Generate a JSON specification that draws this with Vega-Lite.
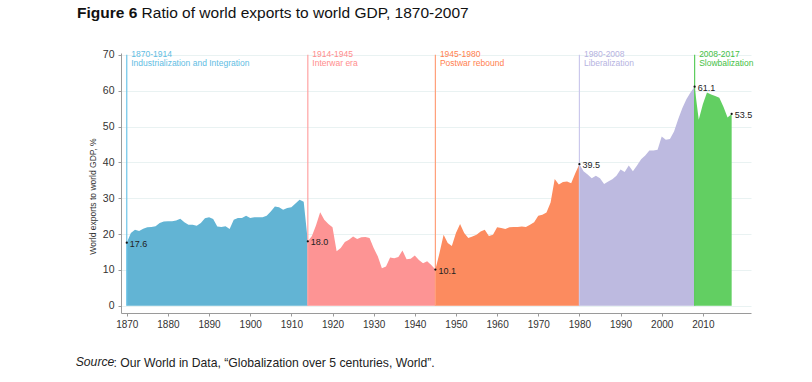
{
  "$schema": "https://vega.github.io/schema/vega-lite/v6.json",
  "width": 630,
  "height": 260,
  "autosize": {"type": "none"},
  "padding": {"left": 121, "top": 53, "right": 61, "bottom": 69},
  "background": "white",
  "config": {
    "font": "Liberation Sans",
    "view": {"stroke": null},
    "axisX": {
      "format": "d",
      "grid": false,
      "labelFontSize": 10,
      "labelColor": "#333333",
      "labelPadding": 3,
      "domainColor": "#9a9a9a",
      "tickColor": "#9a9a9a",
      "tickSize": 3,
      "titleFontSize": 12.2,
      "titleFontWeight": "normal",
      "titleColor": "#222222",
      "titleAnchor": "start",
      "titleAlign": "left",
      "titleBaseline": "alphabetic",
      "titleX": -45.3,
      "titleY": 53
    },
    "axisY": {
      "labelOverlap": false,
      "grid": true,
      "gridColor": "#e9f2f2",
      "gridWidth": 1,
      "labelFontSize": 10.5,
      "labelColor": "#333333",
      "labelPadding": 4,
      "domainColor": "#9a9a9a",
      "tickColor": "#9a9a9a",
      "tickSize": 3,
      "titleFontSize": 8.5,
      "titleFontWeight": "normal",
      "titleColor": "#333333",
      "titleAngle": -90,
      "titleAlign": "center",
      "titleBaseline": "middle",
      "titleX": -29,
      "titleY": 143
    }
  },
  "title": {
    "text": "Figure 6",
    "subtitle": "\u200b\u00a0\u00a0\u00a0\u00a0\u00a0\u00a0\u00a0\u00a0\u00a0\u00a0\u00a0\u00a0\u00a0\u00a0\u00a0Ratio of world exports to world GDP, 1870-2007",
    "anchor": "start",
    "frame": "group",
    "dx": -44,
    "offset": 28,
    "fontSize": 15.5,
    "fontWeight": "bold",
    "color": "#111111",
    "subtitleFontSize": 15.5,
    "subtitleFontWeight": "normal",
    "subtitleColor": "#111111",
    "subtitleFont": "Liberation Sans",
    "subtitlePadding": -15.5
  },
  "datasets": {
    "series": [
      {"era": "1870-1914", "year": 1870, "value": 17.6},
      {"era": "1870-1914", "year": 1871, "value": 20.3},
      {"era": "1870-1914", "year": 1872, "value": 21.2},
      {"era": "1870-1914", "year": 1873, "value": 20.9},
      {"era": "1870-1914", "year": 1874, "value": 21.5},
      {"era": "1870-1914", "year": 1875, "value": 21.9},
      {"era": "1870-1914", "year": 1876, "value": 22.0},
      {"era": "1870-1914", "year": 1877, "value": 22.2},
      {"era": "1870-1914", "year": 1878, "value": 23.1},
      {"era": "1870-1914", "year": 1879, "value": 23.5},
      {"era": "1870-1914", "year": 1880, "value": 23.6},
      {"era": "1870-1914", "year": 1881, "value": 23.6},
      {"era": "1870-1914", "year": 1882, "value": 23.8},
      {"era": "1870-1914", "year": 1883, "value": 24.3},
      {"era": "1870-1914", "year": 1884, "value": 23.3},
      {"era": "1870-1914", "year": 1885, "value": 22.6},
      {"era": "1870-1914", "year": 1886, "value": 22.6},
      {"era": "1870-1914", "year": 1887, "value": 22.3},
      {"era": "1870-1914", "year": 1888, "value": 23.1},
      {"era": "1870-1914", "year": 1889, "value": 24.4},
      {"era": "1870-1914", "year": 1890, "value": 24.7},
      {"era": "1870-1914", "year": 1891, "value": 24.2},
      {"era": "1870-1914", "year": 1892, "value": 22.1},
      {"era": "1870-1914", "year": 1893, "value": 22.0},
      {"era": "1870-1914", "year": 1894, "value": 22.2},
      {"era": "1870-1914", "year": 1895, "value": 21.4},
      {"era": "1870-1914", "year": 1896, "value": 24.0},
      {"era": "1870-1914", "year": 1897, "value": 24.5},
      {"era": "1870-1914", "year": 1898, "value": 24.5},
      {"era": "1870-1914", "year": 1899, "value": 25.1},
      {"era": "1870-1914", "year": 1900, "value": 24.5},
      {"era": "1870-1914", "year": 1901, "value": 24.7},
      {"era": "1870-1914", "year": 1902, "value": 24.7},
      {"era": "1870-1914", "year": 1903, "value": 24.7},
      {"era": "1870-1914", "year": 1904, "value": 25.1},
      {"era": "1870-1914", "year": 1905, "value": 26.3},
      {"era": "1870-1914", "year": 1906, "value": 27.7},
      {"era": "1870-1914", "year": 1907, "value": 27.5},
      {"era": "1870-1914", "year": 1908, "value": 26.8},
      {"era": "1870-1914", "year": 1909, "value": 27.3},
      {"era": "1870-1914", "year": 1910, "value": 27.5},
      {"era": "1870-1914", "year": 1911, "value": 28.5},
      {"era": "1870-1914", "year": 1912, "value": 29.6},
      {"era": "1870-1914", "year": 1913, "value": 29.0},
      {"era": "1870-1914", "year": 1914, "value": 18.0},
      {"era": "1914-1945", "year": 1914, "value": 18.0},
      {"era": "1914-1945", "year": 1915, "value": 19.5},
      {"era": "1914-1945", "year": 1916, "value": 22.5},
      {"era": "1914-1945", "year": 1917, "value": 26.1},
      {"era": "1914-1945", "year": 1918, "value": 24.0},
      {"era": "1914-1945", "year": 1919, "value": 22.8},
      {"era": "1914-1945", "year": 1920, "value": 21.9},
      {"era": "1914-1945", "year": 1921, "value": 15.2},
      {"era": "1914-1945", "year": 1922, "value": 16.1},
      {"era": "1914-1945", "year": 1923, "value": 17.8},
      {"era": "1914-1945", "year": 1924, "value": 18.4},
      {"era": "1914-1945", "year": 1925, "value": 19.3},
      {"era": "1914-1945", "year": 1926, "value": 18.6},
      {"era": "1914-1945", "year": 1927, "value": 19.1},
      {"era": "1914-1945", "year": 1928, "value": 19.2},
      {"era": "1914-1945", "year": 1929, "value": 18.9},
      {"era": "1914-1945", "year": 1930, "value": 16.1},
      {"era": "1914-1945", "year": 1931, "value": 13.8},
      {"era": "1914-1945", "year": 1932, "value": 10.5},
      {"era": "1914-1945", "year": 1933, "value": 11.0},
      {"era": "1914-1945", "year": 1934, "value": 13.5},
      {"era": "1914-1945", "year": 1935, "value": 13.3},
      {"era": "1914-1945", "year": 1936, "value": 13.6},
      {"era": "1914-1945", "year": 1937, "value": 15.4},
      {"era": "1914-1945", "year": 1938, "value": 13.0},
      {"era": "1914-1945", "year": 1939, "value": 13.1},
      {"era": "1914-1945", "year": 1940, "value": 14.0},
      {"era": "1914-1945", "year": 1941, "value": 12.8},
      {"era": "1914-1945", "year": 1942, "value": 11.9},
      {"era": "1914-1945", "year": 1943, "value": 12.4},
      {"era": "1914-1945", "year": 1944, "value": 11.4},
      {"era": "1914-1945", "year": 1945, "value": 10.1},
      {"era": "1945-1980", "year": 1945, "value": 10.1},
      {"era": "1945-1980", "year": 1946, "value": 14.7},
      {"era": "1945-1980", "year": 1947, "value": 19.8},
      {"era": "1945-1980", "year": 1948, "value": 17.5},
      {"era": "1945-1980", "year": 1949, "value": 16.7},
      {"era": "1945-1980", "year": 1950, "value": 20.3},
      {"era": "1945-1980", "year": 1951, "value": 22.8},
      {"era": "1945-1980", "year": 1952, "value": 20.3},
      {"era": "1945-1980", "year": 1953, "value": 18.9},
      {"era": "1945-1980", "year": 1954, "value": 19.3},
      {"era": "1945-1980", "year": 1955, "value": 19.8},
      {"era": "1945-1980", "year": 1956, "value": 20.7},
      {"era": "1945-1980", "year": 1957, "value": 21.2},
      {"era": "1945-1980", "year": 1958, "value": 19.5},
      {"era": "1945-1980", "year": 1959, "value": 19.8},
      {"era": "1945-1980", "year": 1960, "value": 21.9},
      {"era": "1945-1980", "year": 1961, "value": 21.7},
      {"era": "1945-1980", "year": 1962, "value": 21.4},
      {"era": "1945-1980", "year": 1963, "value": 21.9},
      {"era": "1945-1980", "year": 1964, "value": 22.0},
      {"era": "1945-1980", "year": 1965, "value": 22.0},
      {"era": "1945-1980", "year": 1966, "value": 22.1},
      {"era": "1945-1980", "year": 1967, "value": 22.0},
      {"era": "1945-1980", "year": 1968, "value": 22.6},
      {"era": "1945-1980", "year": 1969, "value": 23.3},
      {"era": "1945-1980", "year": 1970, "value": 25.1},
      {"era": "1945-1980", "year": 1971, "value": 25.4},
      {"era": "1945-1980", "year": 1972, "value": 26.0},
      {"era": "1945-1980", "year": 1973, "value": 28.8},
      {"era": "1945-1980", "year": 1974, "value": 35.4},
      {"era": "1945-1980", "year": 1975, "value": 33.8},
      {"era": "1945-1980", "year": 1976, "value": 34.5},
      {"era": "1945-1980", "year": 1977, "value": 34.7},
      {"era": "1945-1980", "year": 1978, "value": 34.2},
      {"era": "1945-1980", "year": 1979, "value": 37.0},
      {"era": "1945-1980", "year": 1980, "value": 39.5},
      {"era": "1980-2008", "year": 1980, "value": 39.5},
      {"era": "1980-2008", "year": 1981, "value": 37.5},
      {"era": "1980-2008", "year": 1982, "value": 36.6},
      {"era": "1980-2008", "year": 1983, "value": 35.6},
      {"era": "1980-2008", "year": 1984, "value": 36.3},
      {"era": "1980-2008", "year": 1985, "value": 35.6},
      {"era": "1980-2008", "year": 1986, "value": 34.0},
      {"era": "1980-2008", "year": 1987, "value": 34.7},
      {"era": "1980-2008", "year": 1988, "value": 35.3},
      {"era": "1980-2008", "year": 1989, "value": 36.3},
      {"era": "1980-2008", "year": 1990, "value": 38.0},
      {"era": "1980-2008", "year": 1991, "value": 37.3},
      {"era": "1980-2008", "year": 1992, "value": 39.1},
      {"era": "1980-2008", "year": 1993, "value": 37.5},
      {"era": "1980-2008", "year": 1994, "value": 39.1},
      {"era": "1980-2008", "year": 1995, "value": 40.9},
      {"era": "1980-2008", "year": 1996, "value": 41.9},
      {"era": "1980-2008", "year": 1997, "value": 43.3},
      {"era": "1980-2008", "year": 1998, "value": 43.3},
      {"era": "1980-2008", "year": 1999, "value": 43.5},
      {"era": "1980-2008", "year": 2000, "value": 47.2},
      {"era": "1980-2008", "year": 2001, "value": 46.3},
      {"era": "1980-2008", "year": 2002, "value": 46.5},
      {"era": "1980-2008", "year": 2003, "value": 48.6},
      {"era": "1980-2008", "year": 2004, "value": 52.0},
      {"era": "1980-2008", "year": 2005, "value": 55.1},
      {"era": "1980-2008", "year": 2006, "value": 57.6},
      {"era": "1980-2008", "year": 2007, "value": 59.5},
      {"era": "1980-2008", "year": 2008, "value": 61.1},
      {"era": "2008-2017", "year": 2008, "value": 61.1},
      {"era": "2008-2017", "year": 2009, "value": 51.9},
      {"era": "2008-2017", "year": 2010, "value": 56.2},
      {"era": "2008-2017", "year": 2011, "value": 59.5},
      {"era": "2008-2017", "year": 2012, "value": 58.9},
      {"era": "2008-2017", "year": 2013, "value": 58.5},
      {"era": "2008-2017", "year": 2014, "value": 58.0},
      {"era": "2008-2017", "year": 2015, "value": 55.5},
      {"era": "2008-2017", "year": 2016, "value": 52.5},
      {"era": "2008-2017", "year": 2017, "value": 53.5}
    ],
    "eras": [
      {"era": "1870-1914", "year": 1870, "name": "Industrialization and Integration"},
      {"era": "1914-1945", "year": 1914, "name": "Interwar era"},
      {"era": "1945-1980", "year": 1945, "name": "Postwar rebound"},
      {"era": "1980-2008", "year": 1980, "name": "Liberalization"},
      {"era": "2008-2017", "year": 2008, "name": "Slowbalization"}
    ],
    "highlights": [
      {"year": 1870, "value": 17.6},
      {"year": 1914, "value": 18.0},
      {"year": 1945, "value": 10.1},
      {"year": 1980, "value": 39.5},
      {"year": 2008, "value": 61.1},
      {"year": 2017, "value": 53.5}
    ],
    "footer": [{"note": "Source"}]
  },
  "layer": [
    {
      "data": {"name": "series"},
      "mark": {"type": "area", "opacity": 1},
      "encoding": {
        "x": {
          "field": "year",
          "type": "quantitative",
          "scale": {"domain": [1868.6, 2021.7], "nice": false, "zero": false},
          "axis": {
            "values": [1870, 1880, 1890, 1900, 1910, 1920, 1930, 1940, 1950, 1960, 1970, 1980, 1990, 2000, 2010],
            "title": "\u200b\u00a0\u00a0\u00a0\u00a0\u00a0\u00a0\u00a0\u00a0\u00a0\u00a0\u00a0: Our World in Data, “Globalization over 5 centuries, World”."
          }
        },
        "y": {
          "field": "value",
          "type": "quantitative",
          "stack": null,
          "scale": {"domain": [-2, 70.5], "nice": false, "zero": false},
          "axis": {
            "values": [0, 10, 20, 30, 40, 50, 60, 70],
            "title": "World exports to world GDP, %"
          }
        },
        "fill": {
          "field": "era",
          "type": "nominal",
          "scale": {
            "domain": ["1870-1914", "1914-1945", "1945-1980", "1980-2008", "2008-2017"],
            "range": ["#62b4d4", "#fd9494", "#fc8b5f", "#bdbae0", "#62cf62"]
          },
          "legend": null
        }
      }
    },
    {
      "data": {"name": "eras"},
      "mark": {"type": "rule", "strokeWidth": 1.2},
      "encoding": {
        "x": {"field": "year", "type": "quantitative", "axis": {"values": [1870, 1880, 1890, 1900, 1910, 1920, 1930, 1940, 1950, 1960, 1970, 1980, 1990, 2000, 2010], "title": "\u200b\u00a0\u00a0\u00a0\u00a0\u00a0\u00a0\u00a0\u00a0\u00a0\u00a0\u00a0: Our World in Data, “Globalization over 5 centuries, World”."}},
        "y": {"datum": 0, "type": "quantitative", "axis": {"values": [0, 10, 20, 30, 40, 50, 60, 70], "title": "World exports to world GDP, %"}},
        "y2": {"datum": 70},
        "stroke": {
          "field": "era",
          "type": "nominal",
          "scale": {
            "domain": ["1870-1914", "1914-1945", "1945-1980", "1980-2008", "2008-2017"],
            "range": ["#6cc4e8", "#ffa3a3", "#ffa07a", "#cbc8ec", "#5ccc5c"]
          },
          "legend": null
        }
      }
    },
    {
      "data": {"name": "eras"},
      "mark": {"type": "text", "align": "left", "baseline": "alphabetic", "dx": 4.5, "dy": 2.6, "fontSize": 8.5},
      "encoding": {
        "x": {"field": "year", "type": "quantitative", "axis": {"values": [1870, 1880, 1890, 1900, 1910, 1920, 1930, 1940, 1950, 1960, 1970, 1980, 1990, 2000, 2010], "title": "\u200b\u00a0\u00a0\u00a0\u00a0\u00a0\u00a0\u00a0\u00a0\u00a0\u00a0\u00a0: Our World in Data, “Globalization over 5 centuries, World”."}},
        "y": {"datum": 70, "type": "quantitative", "axis": {"values": [0, 10, 20, 30, 40, 50, 60, 70], "title": "World exports to world GDP, %"}},
        "text": {"field": "era"},
        "color": {
          "field": "era",
          "type": "nominal",
          "scale": {
            "domain": ["1870-1914", "1914-1945", "1945-1980", "1980-2008", "2008-2017"],
            "range": ["#5fbde3", "#ff8d8d", "#ff7f4f", "#b6b3df", "#45c045"]
          },
          "legend": null
        }
      }
    },
    {
      "data": {"name": "eras"},
      "mark": {"type": "text", "align": "left", "baseline": "alphabetic", "dx": 4.5, "dy": 11.2, "fontSize": 8.5},
      "encoding": {
        "x": {"field": "year", "type": "quantitative", "axis": {"values": [1870, 1880, 1890, 1900, 1910, 1920, 1930, 1940, 1950, 1960, 1970, 1980, 1990, 2000, 2010], "title": "\u200b\u00a0\u00a0\u00a0\u00a0\u00a0\u00a0\u00a0\u00a0\u00a0\u00a0\u00a0: Our World in Data, “Globalization over 5 centuries, World”."}},
        "y": {"datum": 70, "type": "quantitative", "axis": {"values": [0, 10, 20, 30, 40, 50, 60, 70], "title": "World exports to world GDP, %"}},
        "text": {"field": "name"},
        "color": {
          "field": "era",
          "type": "nominal",
          "scale": {
            "domain": ["1870-1914", "1914-1945", "1945-1980", "1980-2008", "2008-2017"],
            "range": ["#5fbde3", "#ff8d8d", "#ff7f4f", "#b6b3df", "#45c045"]
          },
          "legend": null
        }
      }
    },
    {
      "data": {"name": "highlights"},
      "mark": {"type": "point", "filled": true, "size": 5, "color": "#111111", "opacity": 1},
      "encoding": {
        "x": {"field": "year", "type": "quantitative", "axis": {"values": [1870, 1880, 1890, 1900, 1910, 1920, 1930, 1940, 1950, 1960, 1970, 1980, 1990, 2000, 2010], "title": "\u200b\u00a0\u00a0\u00a0\u00a0\u00a0\u00a0\u00a0\u00a0\u00a0\u00a0\u00a0: Our World in Data, “Globalization over 5 centuries, World”."}},
        "y": {"field": "value", "type": "quantitative", "axis": {"values": [0, 10, 20, 30, 40, 50, 60, 70], "title": "World exports to world GDP, %"}}
      }
    },
    {
      "data": {"name": "highlights"},
      "mark": {"type": "text", "align": "left", "baseline": "middle", "dx": 3, "dy": 1, "fontSize": 9, "color": "#222222"},
      "encoding": {
        "x": {"field": "year", "type": "quantitative", "axis": {"values": [1870, 1880, 1890, 1900, 1910, 1920, 1930, 1940, 1950, 1960, 1970, 1980, 1990, 2000, 2010], "title": "\u200b\u00a0\u00a0\u00a0\u00a0\u00a0\u00a0\u00a0\u00a0\u00a0\u00a0\u00a0: Our World in Data, “Globalization over 5 centuries, World”."}},
        "y": {"field": "value", "type": "quantitative", "axis": {"values": [0, 10, 20, 30, 40, 50, 60, 70], "title": "World exports to world GDP, %"}},
        "text": {"field": "value", "type": "quantitative", "format": ".1f"}
      }
    },
    {
      "data": {"name": "footer"},
      "mark": {"type": "text", "align": "left", "baseline": "alphabetic", "fontSize": 12.2, "fontStyle": "italic", "color": "#222222"},
      "encoding": {
        "x": {"datum": 1857.59, "type": "quantitative", "axis": {"values": [1870, 1880, 1890, 1900, 1910, 1920, 1930, 1940, 1950, 1960, 1970, 1980, 1990, 2000, 2010], "title": "\u200b\u00a0\u00a0\u00a0\u00a0\u00a0\u00a0\u00a0\u00a0\u00a0\u00a0\u00a0: Our World in Data, “Globalization over 5 centuries, World”."}},
        "y": {"datum": -16.7, "type": "quantitative", "axis": {"values": [0, 10, 20, 30, 40, 50, 60, 70], "title": "World exports to world GDP, %"}},
        "text": {"field": "note", "type": "nominal"}
      }
    }
  ]
}
